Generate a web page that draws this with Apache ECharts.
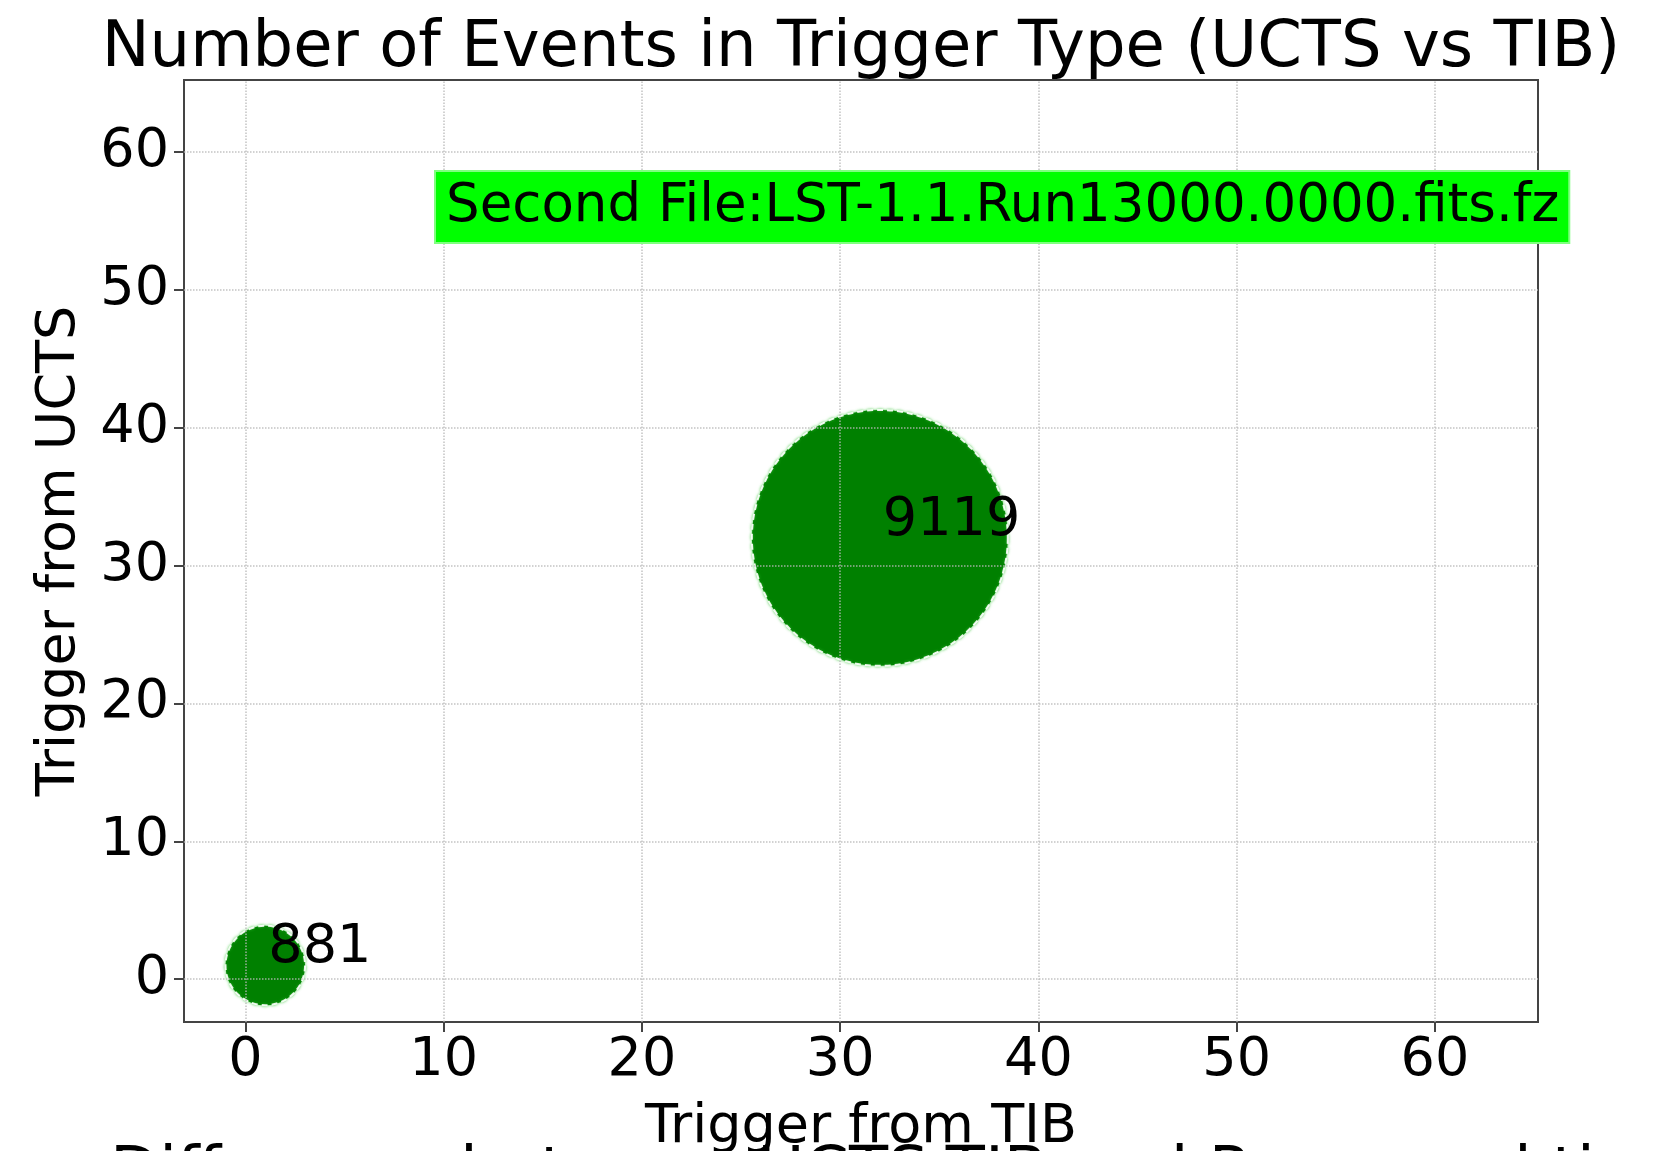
<!DOCTYPE html>
<html>
<head>
<meta charset="utf-8">
<title>Number of Events in Trigger Type</title>
<script src="https://cdn.jsdelivr.net/npm/echarts@6/dist/echarts.min.js"></script>
<style>
  html, body { margin: 0; padding: 0; background: #fff; }
  #chart { width: 1656px; height: 1151px; }
</style>
</head>
<body>
<div id="chart"></div>
<script>
// data
const tibTrigger = [1, 32];
const uctsTrigger = [1, 32];
const eventCounts = [881, 9119];
const xTicks = [0, 10, 20, 30, 40, 50, 60];
const yTicks = [0, 10, 20, 30, 40, 50, 60];

const FONT = 'DejaVu Sans';
const BUBBLE_GREEN = '#008000';
const GRID_GREY = '#b8b8b8';

var chart = echarts.init(document.getElementById('chart'), null, { renderer: 'canvas' });

// bubble area is proportional to the count
var points = [];
for (var i = 0; i < eventCounts.length; i++) {
  points.push([tibTrigger[i], uctsTrigger[i], eventCounts[i]]);
}

// dotted grid drawn on top of the bubbles, like matplotlib
var gridLines = [];
xTicks.forEach(function (v) { gridLines.push({ xAxis: v }); });
yTicks.forEach(function (v) { gridLines.push({ yAxis: v }); });

var axisCommon = {
  type: 'value',
  min: -3.1,
  max: 65.2,
  nameLocation: 'middle',
  nameTextStyle: { fontFamily: FONT, fontSize: 54, color: '#000' },
  axisLine: { show: true, onZero: false, lineStyle: { color: '#444', width: 2 } },
  axisTick: { show: true, inside: false, length: 10, lineStyle: { color: '#444', width: 2 } },
  splitLine: { show: false }
};

var option = {
  animation: false,
  backgroundColor: '#fff',
  title: {
    text: 'Number of Events in Trigger Type (UCTS vs TIB)',
    left: 856,
    textAlign: 'center',
    top: 12,
    textStyle: { fontFamily: FONT, fontSize: 64, fontWeight: 'normal', color: '#000' }
  },
  grid: {
    left: 184, right: 118, top: 80, bottom: 129,
    outerBoundsMode: 'none',
    containLabel: false,
    show: true, borderColor: '#444', borderWidth: 2
  },
  xAxis: Object.assign({}, axisCommon, {
    name: 'Trigger from TIB',
    nameGap: 79,
    axisTick: Object.assign({}, axisCommon.axisTick, { customValues: xTicks }),
    axisLabel: { customValues: xTicks, margin: 12, fontFamily: FONT, fontSize: 54, color: '#000' }
  }),
  yAxis: Object.assign({}, axisCommon, {
    name: 'Trigger from UCTS',
    nameGap: 97,
    axisTick: Object.assign({}, axisCommon.axisTick, { customValues: yTicks }),
    axisLabel: { customValues: yTicks, margin: 15, fontFamily: FONT, fontSize: 54, color: '#000' }
  }),
  graphic: [
    {
      type: 'text',
      left: 434,
      top: 170,
      z: 100,
      style: {
        text: 'Second File:LST-1.1.Run13000.0000.fits.fz',
        fontFamily: FONT,
        fontSize: 53,
        fill: '#000',
        backgroundColor: '#00ff00',
        borderColor: '#80ff80',
        borderWidth: 2,
        padding: [9, 9, 8, 10]
      }
    },
    {
      // title of the next panel, cut off by the bottom edge
      type: 'text',
      left: 110,
      top: 1143,
      style: {
        text: 'Difference between UCTS-TIB and Processed time',
        fontFamily: FONT,
        fontSize: 64,
        fill: '#000'
      }
    }
  ],
  series: [{
    type: 'scatter',
    data: points,
    z: 2,
    symbolSize: function (val) { return 2.68 * Math.sqrt(val[2]); },
    itemStyle: {
      color: BUBBLE_GREEN,
      borderColor: 'rgba(255,255,255,0.9)',
      borderWidth: 2,
      borderType: [6, 4],
      opacity: 1,
      shadowColor: 'rgba(60,200,60,0.8)',
      shadowBlur: 3
    },
    label: {
      show: true,
      position: ['50%', '50%'],
      align: 'left',
      verticalAlign: 'bottom',
      offset: [3, 10],
      formatter: function (p) { return String(p.value[2]); },
      fontFamily: FONT,
      fontSize: 54,
      color: '#000'
    },
    emphasis: { disabled: true },
    markLine: {
      silent: true,
      symbol: 'none',
      z: 5,
      label: { show: false },
      lineStyle: { color: GRID_GREY, type: 'dotted', width: 1.5, opacity: 0.85 },
      data: gridLines
    }
  }]
};

chart.setOption(option);
</script>
</body>
</html>
